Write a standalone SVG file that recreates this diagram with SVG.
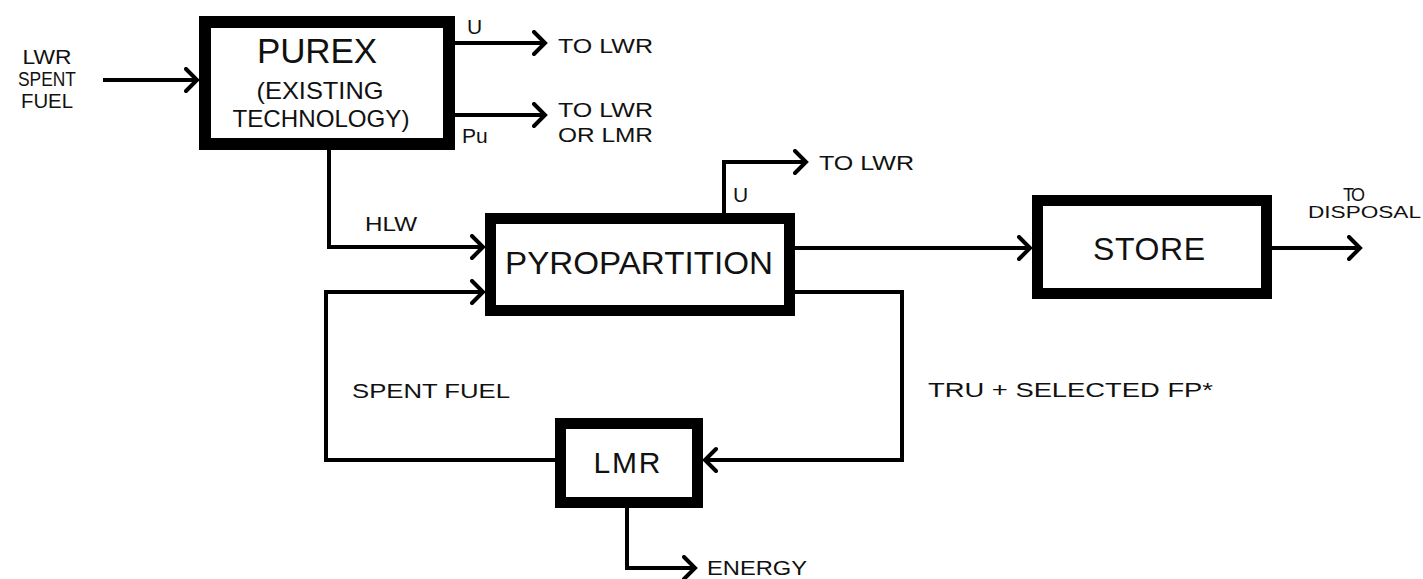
<svg xmlns="http://www.w3.org/2000/svg" width="1423" height="579" viewBox="0 0 1423 579">
<style>
.box{fill:#fff;stroke:#000;}
.ln{fill:none;stroke:#000;stroke-width:4;stroke-linejoin:miter;}
text{font-family:"Liberation Sans",Arial,sans-serif;fill:#111;}
.lbl{font-size:21px;}
.nd{text-anchor:middle;}
</style>
<defs>
<marker id="arr" markerUnits="userSpaceOnUse" markerWidth="16" markerHeight="28" refX="13" refY="13" orient="auto" viewBox="0 0 16 28">
<path d="M2,2 L13,13 L2,24" fill="none" stroke="#000" stroke-width="4" stroke-linecap="round" stroke-linejoin="miter"/>
</marker>
</defs>
<rect width="1423" height="579" fill="#fff"/>
<g id="connectors">
<path class="ln" d="M103,80 L197,80" marker-end="url(#arr)"/>
<path class="ln" d="M455,43 L545,43" marker-end="url(#arr)"/>
<path class="ln" d="M455,115 L545,115" marker-end="url(#arr)"/>
<path class="ln" d="M329,150 L329,247 L483,247" marker-end="url(#arr)"/>
<path class="ln" d="M724,213 L724,162 L806,162" marker-end="url(#arr)"/>
<path class="ln" d="M795,248 L1030,248" marker-end="url(#arr)"/>
<path class="ln" d="M1272,248 L1360,248" marker-end="url(#arr)"/>
<path class="ln" d="M795,292 L902,292 L902,460 L705,460" marker-end="url(#arr)"/>
<path class="ln" d="M555,460 L326,460 L326,292 L483,292" marker-end="url(#arr)"/>
<path class="ln" d="M627,508 L627,568 L695,568" marker-end="url(#arr)"/>
</g>
<g id="labels">
<text class="lbl nd" x="47" y="64" textLength="49" lengthAdjust="spacingAndGlyphs">LWR</text>
<text class="lbl nd" x="47" y="86" textLength="58" lengthAdjust="spacingAndGlyphs">SPENT</text>
<text class="lbl nd" x="47" y="108" textLength="52" lengthAdjust="spacingAndGlyphs">FUEL</text>
<text class="lbl" x="467" y="34">U</text>
<text class="lbl" x="558" y="53" textLength="95" lengthAdjust="spacingAndGlyphs">TO LWR</text>
<text class="lbl" x="558" y="117" textLength="95" lengthAdjust="spacingAndGlyphs">TO LWR</text>
<text class="lbl" x="558" y="142" textLength="95" lengthAdjust="spacingAndGlyphs">OR LMR</text>
<text class="lbl" x="462" y="143">Pu</text>
<text class="lbl" x="365" y="231" textLength="52" lengthAdjust="spacingAndGlyphs">HLW</text>
<text class="lbl" x="733" y="202">U</text>
<text class="lbl" x="819" y="170" textLength="95" lengthAdjust="spacingAndGlyphs">TO LWR</text>
<text style="font-size:18px" x="1343" y="201" textLength="22">TO</text>
<text style="font-size:16px" x="1308" y="218" textLength="113" lengthAdjust="spacingAndGlyphs">DISPOSAL</text>
<text class="lbl" x="352" y="398" textLength="158" lengthAdjust="spacingAndGlyphs">SPENT FUEL</text>
<text class="lbl" x="928" y="397" textLength="285" lengthAdjust="spacingAndGlyphs">TRU + SELECTED FP*</text>
<text class="lbl" x="707" y="575" textLength="100" lengthAdjust="spacingAndGlyphs">ENERGY</text>
</g>
<g id="purex">
<rect class="box" x="205" y="22" width="244" height="122" stroke-width="12"/>
<text class="nd" style="font-size:35px" x="317" y="63" textLength="120">PUREX</text>
<text class="nd" style="font-size:24px" x="320" y="99" textLength="127" lengthAdjust="spacingAndGlyphs">(EXISTING</text>
<text class="nd" style="font-size:24px" x="321" y="127" textLength="177" lengthAdjust="spacingAndGlyphs">TECHNOLOGY)</text>
</g>
<g id="pyropartition">
<rect class="box" x="490.5" y="218.5" width="299" height="92" stroke-width="11"/>
<text class="nd" style="font-size:31px" x="639" y="274" textLength="268" lengthAdjust="spacingAndGlyphs">PYROPARTITION</text>
</g>
<g id="store">
<rect class="box" x="1037.5" y="200.5" width="229" height="93" stroke-width="11"/>
<text class="nd" style="font-size:32px" x="1149" y="260" textLength="112">STORE</text>
</g>
<g id="lmr">
<rect class="box" x="560.5" y="423.5" width="137" height="79" stroke-width="11"/>
<text class="nd" style="font-size:30px" x="627" y="473" textLength="67">LMR</text>
</g>
</svg>
